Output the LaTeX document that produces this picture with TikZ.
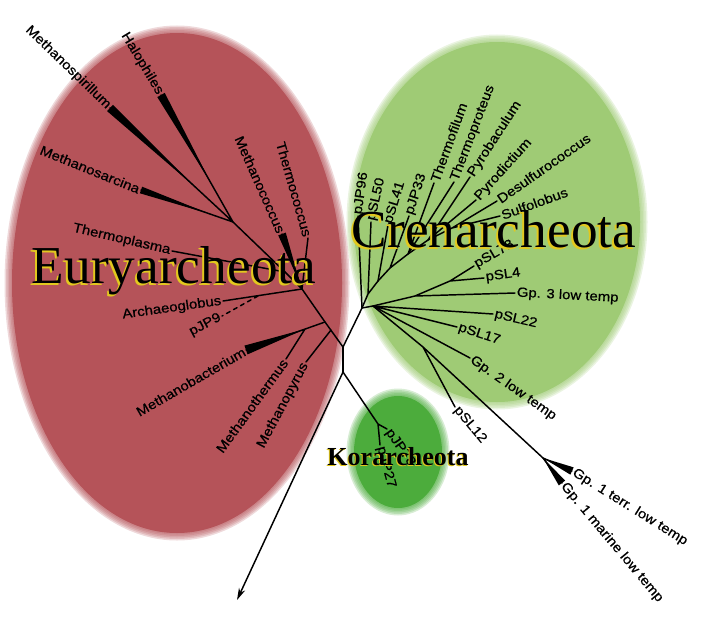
\documentclass[tikz,border=0pt]{standalone}
\usepackage{fontspec}
\usepackage{tikz}
\usetikzlibrary{calc,arrows.meta}
\newfontfamily\leaffont[FakeStretch=1.12,FakeBold=0.6]{Liberation Sans}
\newfontfamily\cladefont{Liberation Serif}
\definecolor{euryred}{RGB}{181,83,89}
\definecolor{crengreen}{RGB}{159,203,117}
\definecolor{korgreen}{RGB}{76,172,60}
\definecolor{shadowyellow}{RGB}{226,200,30}
\tikzset{every picture/.style={line width=0.75pt}}
\tikzset{
  branch/.style={line width=1.1pt, line cap=round},
  leaf/.style={font={\leaffont\fontsize{10}{11}\selectfont}, inner sep=1pt},
  cladename/.style={font={\cladefont\fontsize{40}{40}\selectfont}, inner sep=0pt, anchor=base},
}
% filled clade wedge from an inner point to a leaf
\newcommand{\clade}[3][3.5]{\fill (#2) -- ($(#3)!#1pt!90:(#2)$) -- ($(#3)!#1pt!-90:(#2)$) -- cycle;}

\begin{document}
\begin{tikzpicture}[x=0.75pt,y=0.75pt,yscale=-1,xscale=1]
\useasboundingbox (0,0) rectangle (702,624);

%Shape: Ellipse (Euryarcheota)
\fill[euryred] (177,283) ellipse (165 and 250);
\foreach \d in {-3,-1.5,0,1.5,3,4.5} \fill[euryred, opacity=0.22] (177,283) ellipse ({168+\d} and {253+\d});
%Shape: Ellipse (Crenarcheota)
\fill[crengreen] (497,222) ellipse (143 and 180);
\foreach \d in {-3,-1.5,0,1.5,3,4.5} \fill[crengreen, opacity=0.22] (497,222) ellipse ({146+\d} and {183+\d});
%Shape: Ellipse (Korarcheota)
\fill[korgreen] (398,452) ellipse (44 and 56);
\foreach \d in {-3,-1.5,0,1.5,3,4.5} \fill[korgreen, opacity=0.22] (398,452) ellipse ({47+\d} and {59+\d});

% inner points of the tree
\coordinate (r1) at (343,372);
\coordinate (r2) at (343,347);
\coordinate (rootend) at (237,600);
\coordinate (e5) at (331,330);
\coordinate (e0) at (325,322);
\coordinate (e1) at (305,329);
\coordinate (e2) at (302,289);
\coordinate (e4) at (285,272);
\coordinate (e3) at (233,222);
\coordinate (ja) at (258,296);
\coordinate (c0) at (362,308);
\coordinate (c1) at (368,294);
\coordinate (c2) at (378,281);
\coordinate (c3) at (390,268);
\coordinate (c4) at (408,254);
\coordinate (c5) at (428,240);
\coordinate (c6) at (452,228);
\coordinate (c7) at (373,306);
\coordinate (c8) at (415,296);
\coordinate (c9) at (450,281);
\coordinate (c10) at (423,347);
\coordinate (g1) at (543,458);
\coordinate (k0) at (378,424);

% Text Node (Euryarcheota leaves)
\node[leaf, anchor=east, rotate=-44] (msp) at (110,108) {Methanospirillum};
\node[leaf, anchor=east, rotate=-59] (hal) at (161,95) {Halophiles};
\node[leaf, anchor=east, rotate=-22] (msar) at (141,190) {Methanosarcina};
\node[leaf, anchor=east, rotate=-66] (mcoc) at (282,234) {Methanococcus};
\node[leaf, anchor=east, rotate=-74] (tcoc) at (308,238) {Thermococcus};
\node[leaf, anchor=east, rotate=-13] (tpl) at (172,251) {Thermoplasma};
\node[leaf, anchor=east, rotate=8] (arch) at (223,301) {Archaeoglobus};
\node[leaf, anchor=east, rotate=28] (pjp9) at (222,316) {pJP9};
\node[leaf, anchor=east, rotate=30] (mbac) at (246,350) {Methanobacterium};
\node[leaf, anchor=east, rotate=54] (mth) at (286,359) {Methanothermus};
\node[leaf, anchor=east, rotate=62] (mpy) at (306,362) {Methanopyrus};

% Text Node (Crenarcheota leaves)
\node[leaf, anchor=west, rotate=82] (pjp96) at (358,216) {pJP96};
\node[leaf, anchor=west, rotate=77] (psl50) at (371,222) {pSL50};
\node[leaf, anchor=west, rotate=73] (psl41) at (388,225) {pSL41};
\node[leaf, anchor=west, rotate=72] (pjp33) at (409,216) {pJP33};
\node[leaf, anchor=west, rotate=70] (tfil) at (434,183) {Thermofilum};
\node[leaf, anchor=west, rotate=69] (tpro) at (454,182) {Thermoproteus};
\node[leaf, anchor=west, rotate=57] (pbac) at (470,177) {Pyrobaculum};
\node[leaf, anchor=west, rotate=48] (pdic) at (476,200) {Pyrodictium};
\node[leaf, anchor=west, rotate=35] (dsul) at (497,201) {Desulfurococcus};
\node[leaf, anchor=west, rotate=20] (sulf) at (500,216) {Sulfolobus};
\node[leaf, anchor=west, rotate=30] (psl78) at (474,266) {pSL78};
\node[leaf, anchor=west, rotate=8] (psl4) at (484,278) {pSL4};
\node[leaf, anchor=west, rotate=-3] (gp3) at (515,293) {Gp. 3 low temp};
\node[leaf, anchor=west, rotate=-13] (psl22) at (493,314) {pSL22};
\node[leaf, anchor=west, rotate=-18] (psl17) at (457,327) {pSL17};
\node[leaf, anchor=west, rotate=-35] (gp2) at (470,358) {Gp. 2 low temp};
\node[leaf, anchor=west, rotate=-50] (psl12) at (455,407) {pSL12};
\node[leaf, anchor=west, rotate=-32] (gp1t) at (572,471) {Gp. 1 terr. low temp};
\node[leaf, anchor=west, rotate=-50] (gp1m) at (562,483) {Gp. 1 marine low temp};

% Text Node (Korarcheota leaves)
\node[leaf, anchor=west, rotate=-55] (pjp78) at (387,429) {pJP78};
\node[leaf, anchor=west, rotate=-75] (pjp27) at (380,445) {pJP27};

% where the wedges start
\coordinate (mspw) at ($(e3)!0.3!(msp.east)$);
\coordinate (halw) at ($(e3)!0.3!(hal.east)$);
\coordinate (msarw) at ($(e3)!0.25!(msar.east)$);
\coordinate (mcocw) at ($(e2)!0.1!(mcoc.east)$);
\coordinate (mbacw) at ($(e0)!0.25!(mbac.east)$);

%Straight Lines (root)
\draw[branch] (r2) -- (r1);
\draw[branch, -{Stealth[length=9pt,width=5pt]}] (r1) -- (rootend);
\draw[branch] (r1) -- (k0) (k0) -- (pjp78.west) (k0) -- (pjp27.west);

%Straight Lines (Euryarcheota)
\draw[branch] (r2) -- (e0) -- (e2) -- (e4) -- (e3);
\draw[branch] (e3) -- (msp.east) (e3) -- (hal.east) (e3) -- (msar.east);
\draw[branch] (e2) -- (mcoc.east) (e2) -- (tcoc.east) (e4) -- (tpl.east);
\draw[branch] (e2) -- (arch.east);
\draw[branch, dashed] (ja) -- (pjp9.east);
\draw[branch] (e0) -- (mbac.east) (e1) -- (mth.east) (e5) -- (mpy.east);
\clade[3.2]{mspw}{msp.east}
\clade[3.2]{halw}{hal.east}
\clade[2.6]{msarw}{msar.east}
\clade[3]{mcocw}{mcoc.east}
\clade[3.5]{mbacw}{mbac.east}

%Straight Lines (Crenarcheota)
\draw[branch] (r2) -- (c0) -- (pjp96.west);
\draw[branch] (c0) -- (c1) -- (psl50.west) (c1) -- (c2) -- (psl41.west);
\draw[branch] (c2) -- (c3) -- (pjp33.west) (c3) -- (c4) -- (tfil.west) (c4) -- (tpro.west);
\draw[branch] (c4) -- (c5) -- (pbac.west) (c5) -- (pdic.west);
\draw[branch] (c5) -- (c6) -- (dsul.west) (c6) -- (sulf.west);
\draw[branch] (c0) -- (c7) -- (c8) -- (gp3.west) (c8) -- (c9) -- (psl4.west) (c9) -- (psl78.west);
\draw[branch] (c7) -- (psl22.west) (c7) -- (psl17.west) (c7) -- (gp2.west);
\draw[branch] (c7) -- (c10) -- (psl12.west) (c10) -- (g1);
\draw[branch] (g1) -- (gp1t.west) (g1) -- (gp1m.west);
\clade[3]{g1}{gp1t.west}
\clade[3]{g1}{gp1m.west}

% Text Node (group names)
\node[cladename, text=shadowyellow] (euryshadow) at (172,285) {Euryarcheota};
\node[cladename] (eury) at (174,283) {Euryarcheota};
\node[cladename, text=shadowyellow] (crenshadow) at (492,249) {Crenarcheota};
\node[cladename] (cren) at (494,247) {Crenarcheota};
\node[cladename, font={\cladefont\bfseries\fontsize{19.5}{20}\selectfont}, text=shadowyellow] (korshadow) at (397,466) {Korarcheota};
\node[cladename, font={\cladefont\bfseries\fontsize{19.5}{20}\selectfont}] (kor) at (398,465) {Korarcheota};

\end{tikzpicture}
\end{document}
